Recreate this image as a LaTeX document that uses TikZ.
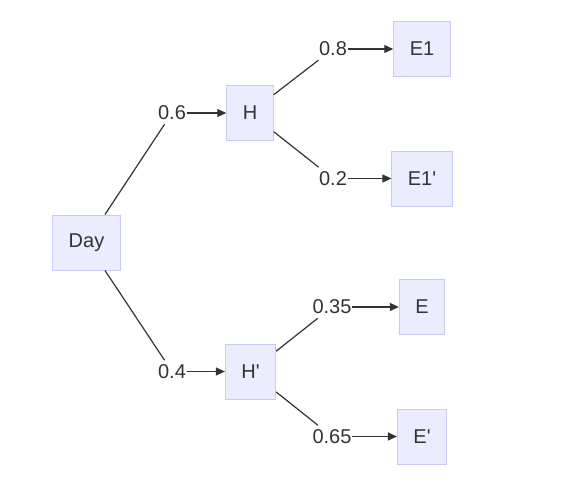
\documentclass[tikz,border=0pt]{standalone}
\usepackage{fontspec}
\setmainfont{Liberation Sans}
\usetikzlibrary{arrows.meta}
\definecolor{boxfill}{HTML}{ECECFF}
\definecolor{boxline}{HTML}{CACAF8}
\definecolor{ink}{HTML}{333333}

\begin{document}
\begin{tikzpicture}[x=1pt, y=-1pt,
    every node/.style={font=\fontsize{20}{24}\selectfont, text=ink},
    box/.style={draw=boxline, fill=boxfill, line width=1pt, minimum height=55pt, inner xsep=16pt},
    prob/.style={inner xsep=0.5pt, inner ysep=4pt},
    link/.style={draw=ink, line width=1.2pt},
    arrow/.style={link, -{Triangle[length=9pt,width=8pt]}}]
    \useasboundingbox (0,0) rectangle (574,483);

    % Boxes
    \node[box] (day) at (86.5,242.5) {Day};
    \node[box] (h) at (250,113) {H};
    \node[box] (hp) at (250.5,371.5) {H\textquotesingle};
    \node[box] (e1) at (422,49) {E1};
    \node[box] (e1p) at (422,178.5) {E1\textquotesingle};
    \node[box] (e) at (422,307) {E};
    \node[box] (ep) at (422,436.5) {E\textquotesingle};

    % Probabilities on the branches
    \node[prob] (p06) at (172,113) {0.6};
    \node[prob] (p04) at (172,371.5) {0.4};
    \node[prob] (p08) at (333,49) {0.8};
    \node[prob] (p02) at (333,178.5) {0.2};
    \node[prob] (p035) at (332,307) {0.35};
    \node[prob] (p065) at (332,436.5) {0.65};

    % Branches
    \draw[link] (day) -- (p06);
    \draw[arrow] (p06) -- (h);
    \draw[link] (day) -- (p04);
    \draw[arrow] (p04) -- (hp);
    \draw[link] (h) -- (p08);
    \draw[arrow] (p08) -- (e1);
    \draw[link] (h) -- (p02);
    \draw[arrow] (p02) -- (e1p);
    \draw[link] (hp) -- (p035);
    \draw[arrow] (p035) -- (e);
    \draw[link] (hp) -- (p065);
    \draw[arrow] (p065) -- (ep);

\end{tikzpicture}
\end{document}
